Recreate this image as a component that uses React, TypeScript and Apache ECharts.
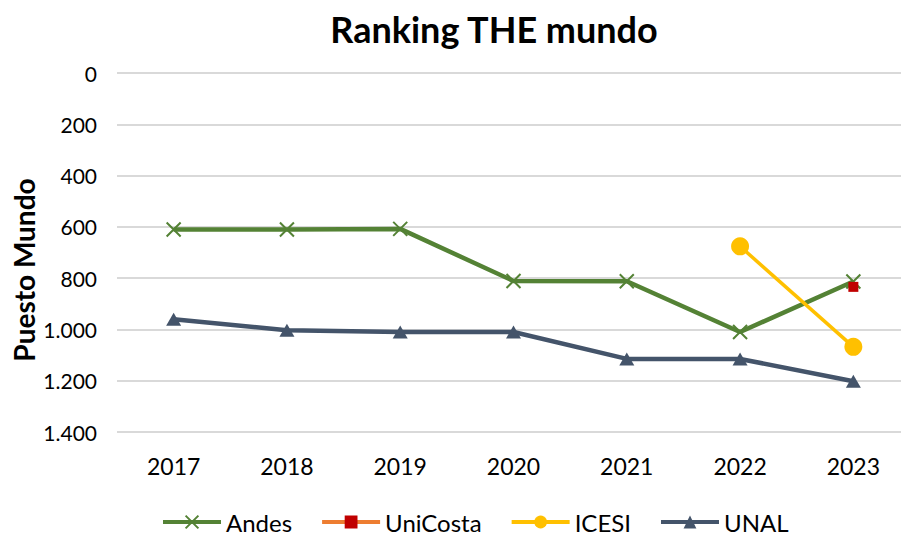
import React, { useEffect, useRef } from "react";
import * as echarts from "echarts";

const years = ["2017", "2018", "2019", "2020", "2021", "2022", "2023"];
const andes = [610, 610, 608, 811, 812, 1010, 813];
const uniCosta = [null, null, null, null, null, null, 834];
const icesi = [null, null, null, null, null, 676, 1068];
const unal = [960, 1003, 1010, 1010, 1115, 1115, 1202];
const yTicks = { min: 0, max: 1400, interval: 200 };

const FONT = "Lato, 'Liberation Sans', sans-serif";

export default function App() {
  const ref = useRef<HTMLDivElement>(null);
  useEffect(() => {
    if (!ref.current) return;
    const chart = echarts.init(ref.current, null, { renderer: "svg" });
    const crossPath = "path://M0,0L10,10M10,0L0,10";
    chart.setOption({
      animation: false,
      backgroundColor: "#ffffff",
      textStyle: { fontFamily: FONT },
      graphic: [
        {
          type: "text",
          x: 494,
          y: 29,
          style: {
            text: "Ranking THE mundo",
            font: `bold 36px ${FONT}`,
            fill: "#000",
            textAlign: "center",
            textVerticalAlign: "middle",
          },
        },
        {
          type: "text",
          x: 24,
          y: 270,
          rotation: Math.PI / 2,
          style: {
            text: "Puesto Mundo",
            font: `bold 28px ${FONT}`,
            fill: "#000",
            textAlign: "center",
            textVerticalAlign: "middle",
          },
        },
      ],
      legend: {
        left: 161,
        top: 509,
        padding: 0,
        itemWidth: 58,
        itemHeight: 16,
        itemGap: 28,
        lineStyle: { width: 4 },
        textStyle: { fontFamily: FONT, fontSize: 24, color: "#000", lineHeight: 26 },
        data: ["Andes", "UniCosta", "ICESI", "UNAL"],
      },
      grid: { left: 117, right: 0, top: 73, bottom: 105, containLabel: false },
      xAxis: {
        type: "category",
        data: years,
        boundaryGap: true,
        axisLine: { show: false, onZero: false },
        axisTick: { show: false },
        axisLabel: { fontSize: 23, color: "#000", margin: 22, fontFamily: FONT },
        splitLine: { show: false },
      },
      yAxis: {
        type: "value",
        inverse: true,
        min: yTicks.min,
        max: yTicks.max,
        interval: yTicks.interval,
        axisLine: { show: false },
        axisTick: { show: false },
        axisLabel: {
          fontSize: 21,
          color: "#000",
          margin: 20,
          fontFamily: FONT,
          formatter: (v: number) => v.toString().replace(/\B(?=(\d{3})+(?!\d))/g, "."),
        },
        splitLine: { lineStyle: { color: "#d9d9d9", width: 2 } },
      },
      series: [
        {
          name: "Andes",
          type: "line",
          data: andes,
          symbol: crossPath,
          symbolSize: 14,
          lineStyle: { color: "#548235", width: 4.5 },
          itemStyle: { color: "#548235", borderColor: "#548235", borderWidth: 2 },
        },
        {
          name: "UniCosta",
          type: "line",
          data: uniCosta,
          symbol: "rect",
          symbolSize: 10,
          lineStyle: { color: "#ED7D31", width: 4.5 },
          itemStyle: { color: "#C00000" },
        },
        {
          name: "ICESI",
          type: "line",
          data: icesi,
          symbol: "circle",
          symbolSize: 18,
          lineStyle: { color: "#FFC000", width: 3.5 },
          itemStyle: { color: "#FFC000" },
        },
        {
          name: "UNAL",
          type: "line",
          data: unal,
          symbol: "triangle",
          symbolSize: [15, 13],
          lineStyle: { color: "#44546A", width: 4.5 },
          itemStyle: { color: "#44546A" },
        },
      ],
    });
    return () => chart.dispose();
  }, []);
  return (
    <div style={{ position: "absolute", left: 0, top: 0, width: 901, height: 537, overflow: "hidden" }}>
      <div ref={ref} style={{ width: 910, height: 537 }} />
    </div>
  );
}
